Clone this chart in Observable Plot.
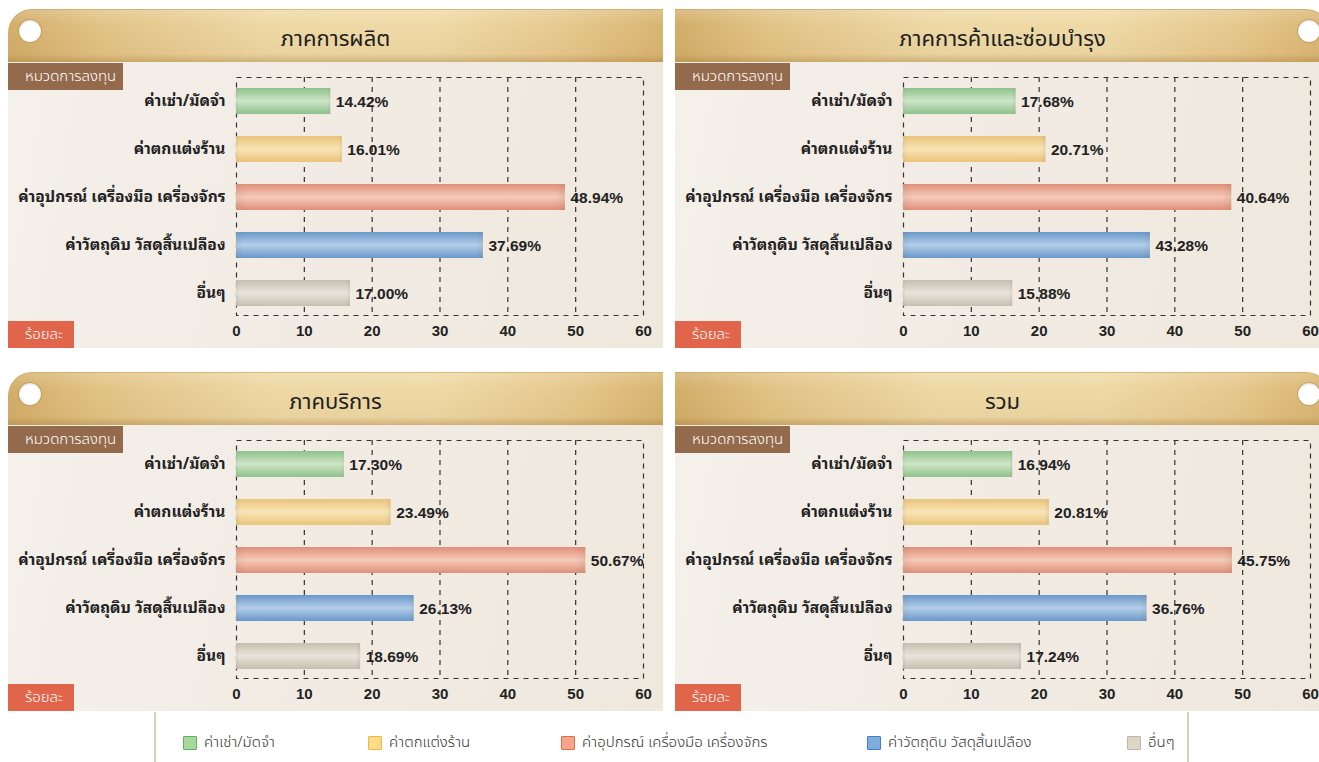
<!DOCTYPE html>
<html>
<head>
<meta charset="utf-8">
<script src="https://cdn.jsdelivr.net/npm/d3@7"></script>
<script src="https://cdn.jsdelivr.net/npm/@observablehq/plot@0.6"></script>
<style>
  html, body { margin: 0; padding: 0; background: #fff; }
  body { width: 1319px; height: 762px; overflow: hidden; position: relative;
         font-family: "Noto Sans Thai", "Noto Sans", sans-serif; }
  .panel { position: absolute; width: 655px; height: 339px; }
  .header { position: absolute; left: 0; top: 0; width: 655px; height: 53px;
    background:
      linear-gradient(to bottom, rgba(255,255,255,0.18) 0%, rgba(255,255,255,0) 30%, rgba(140,95,30,0.06) 85%, rgba(150,105,40,0.35) 100%),
      linear-gradient(to right, #d3ae6a 0%, #e2c386 14%, #eed9a6 40%, #efdaa7 65%, #e6c88d 86%, #d9b572 100%);
    box-shadow: inset 0 1px 0 rgba(200,160,90,0.6); }
  .left .header { border-top-left-radius: 24px; }
  .right .header { border-top-right-radius: 24px; }
  .title { position: absolute; left: 0; top: 0; width: 655px; height: 53px; line-height: 61px;
    text-align: center; font-size: 22px; font-weight: 400; color: #1e1e1e; }
  .hole { position: absolute; top: 11px; width: 22px; height: 22px; border-radius: 50%;
    background: #fff; box-shadow: 0 0 0 1px rgba(190,150,80,0.7), inset 0 1px 2px rgba(0,0,0,0.15); }
  .left .hole { left: 11px; }
  .right .hole { left: 623px; }
  .body { position: absolute; left: 0; top: 53px; width: 655px; height: 286px;
    background: linear-gradient(100deg, #f4f0ea 0%, #f1ebe3 50%, #efe8dd 100%); }
  .tag { position: absolute; left: 0; height: 27px; line-height: 27px; color: #fff;
    font-size: 15px; font-weight: 300; box-sizing: border-box; padding-left: 17px; }
  .tag.cat { top: 54px; width: 115px; background: #946a4d; }
  .tag.pct { top: 312px; width: 66px; background: #e1654b; }
  .plot { position: absolute; left: 0; top: 53px; }
  .legend { position: absolute; left: 0; top: 712px; width: 1319px; height: 50px; background: #fff; }
  .vline { position: absolute; top: 0; width: 2px; height: 50px; background: #dccfb8; }
  .item { position: absolute; top: 22px; height: 18px; font-size: 15px; font-weight: 300; color: #333; line-height: 18px; white-space: nowrap; }
  .sw { position: absolute; left: 0; top: 2px; width: 12px; height: 12px; border: 1.5px solid; border-radius: 1px; }
  .item span.t { position: absolute; left: 21px; top: 0; }
</style>
</head>
<body>
<svg width="0" height="0" style="position:absolute">
  <defs id="defs"></defs>
</svg>
<div id="root"></div>
<script>
// ---------- data ----------
const categories = [
  "ค่าเช่า/มัดจำ",
  "ค่าตกแต่งร้าน",
  "ค่าอุปกรณ์ เครื่องมือ เครื่องจักร",
  "ค่าวัตถุดิบ วัสดุสิ้นเปลือง",
  "อื่นๆ"
];
const sectors = ["ภาคการผลิต", "ภาคการค้าและซ่อมบำรุง", "ภาคบริการ", "รวม"];

// printed percentages
const pctManufacturing = [14.42, 16.01, 48.94, 37.69, 17.00];
const pctTrade         = [17.68, 20.71, 40.64, 43.28, 15.88];
const pctService       = [17.30, 23.49, 50.67, 26.13, 18.69];
const pctTotal         = [16.94, 20.81, 45.75, 36.76, 17.24];

// bar lengths as drawn in the picture (read against the axis)
const barManufacturing = [13.9, 15.6, 48.5, 36.4, 16.8];
const barTrade         = [16.6, 21.0, 48.4, 36.4, 16.1];
const barService       = [15.9, 22.8, 51.5, 26.2, 18.3];
const barTotal         = [16.1, 21.5, 48.5, 35.9, 17.4];

const xTicks = [0, 10, 20, 30, 40, 50, 60];
const gridTicks = [10, 20, 30, 40, 50];
const yAxisTitle = "หมวดการลงทุน";
const xAxisTitle = "ร้อยละ";

// colours: [edge, centre] of bar gradients, legend fill/border
const barEdge   = ["#90c18b", "#e9c47a", "#e0907a", "#6a98ca", "#c6beb1"];
const barCenter = ["#cde6c8", "#f9e4b6", "#f6cab9", "#b3cee9", "#e9e4db"];
const legendFill   = ["#a8d8a0", "#fddc8c", "#f6a58c", "#7eaedf", "#ddd5c5"];
const legendBorder = ["#5fb45a", "#efb93e", "#e2684e", "#3f7fc6", "#bfb5a2"];
const legendX = [183, 368, 561, 867, 1127];

// ---------- gradients ----------
const defs = document.getElementById("defs");
const NS = "http://www.w3.org/2000/svg";
categories.forEach((c, i) => {
  const g = document.createElementNS(NS, "linearGradient");
  g.setAttribute("id", "bar-g" + i);
  g.setAttribute("x1", "0"); g.setAttribute("y1", "0");
  g.setAttribute("x2", "0"); g.setAttribute("y2", "1");
  [[0, barEdge[i]], [0.5, barCenter[i]], [1, barEdge[i]]].forEach(([o, col]) => {
    const s = document.createElementNS(NS, "stop");
    s.setAttribute("offset", o); s.setAttribute("stop-color", col);
    g.appendChild(s);
  });
  defs.appendChild(g);
});
{
  const g = document.createElementNS(NS, "linearGradient");
  g.setAttribute("id", "bar-ends");
  [[0, "rgba(120,90,60,0.10)"], [0.03, "rgba(120,90,60,0)"], [0.97, "rgba(120,90,60,0)"], [1, "rgba(120,90,60,0.12)"]].forEach(([o, col]) => {
    const s = document.createElementNS(NS, "stop");
    s.setAttribute("offset", o); s.setAttribute("stop-color", col);
    g.appendChild(s);
  });
  defs.appendChild(g);
}

// ---------- panels ----------
const panels = [
  {title: sectors[0], bars: barManufacturing, pcts: pctManufacturing, left: 8,   top: 9,   side: "left"},
  {title: sectors[1], bars: barTrade,         pcts: pctTrade,         left: 675, top: 9,   side: "right"},
  {title: sectors[2], bars: barService,       pcts: pctService,       left: 8,   top: 372, side: "left"},
  {title: sectors[3], bars: barTotal,         pcts: pctTotal,         left: 675, top: 372, side: "right"}
];

const root = document.getElementById("root");
const gridStyle = {stroke: "#333", strokeWidth: 1.2, strokeDasharray: "5,5"};
const numFont = "'Liberation Sans', Arial, sans-serif";
const thaiLabelFont = "'Noto Sans Thai Looped', 'Noto Sans Thai', 'Noto Sans', sans-serif";

panels.forEach(p => {
  const el = document.createElement("div");
  el.className = "panel " + p.side;
  el.style.left = p.left + "px";
  el.style.top = p.top + "px";
  el.innerHTML = `<div class="header"></div><div class="title">${p.title}</div><div class="hole"></div><div class="body"></div>`;
  root.appendChild(el);

  const data = categories.map((c, i) => ({
    cat: c, bar: p.bars[i], label: p.pcts[i].toFixed(2) + "%", fill: `url(#bar-g${i})`
  }));

  const chart = Plot.plot({
    width: 655, height: 286,
    marginLeft: 228, marginRight: 20, marginTop: 15, marginBottom: 33,
    style: {background: "transparent", fontSize: "15px", color: "#222", overflow: "visible"},
    x: {domain: [0, 60]},
    y: {domain: categories, paddingInner: 0.45, paddingOuter: 0.16, align: 0.57},
    color: {type: "identity"},
    marks: [
      Plot.ruleX(gridTicks, gridStyle),
      Plot.frame(gridStyle),
      Plot.barX(data, {x: "bar", y: "cat", fill: "fill"}),
      Plot.barX(data, {x: "bar", y: "cat", fill: () => "url(#bar-ends)"}),
      Plot.text(data, {x: "bar", y: "cat", text: "label", textAnchor: "start", dx: 5, dy: 1,
        fontSize: 15.5, fontWeight: "bold", fill: "#222", fontFamily: numFont}),
      Plot.axisX({ticks: xTicks, tickSize: 0, tickPadding: 10, fontSize: 15, fontWeight: "bold",
        fontFamily: numFont, label: null, tickFormat: d => String(d)}),
      Plot.axisY({tickSize: 0, tickPadding: 11, fontSize: 15.5, fontWeight: "bold", label: null,
        fontFamily: thaiLabelFont})
    ]
  });
  chart.classList.add("plot");
  el.appendChild(chart);

  const t1 = document.createElement("div");
  t1.className = "tag cat"; t1.textContent = yAxisTitle; el.appendChild(t1);
  const t2 = document.createElement("div");
  t2.className = "tag pct"; t2.textContent = xAxisTitle; el.appendChild(t2);
});

// ---------- legend ----------
const leg = document.createElement("div");
leg.className = "legend";
leg.innerHTML = `<div class="vline" style="left:154px"></div><div class="vline" style="left:1187px"></div>`;
categories.forEach((c, i) => {
  const it = document.createElement("div");
  it.className = "item";
  it.style.left = legendX[i] + "px";
  it.innerHTML = `<div class="sw" style="background:${legendFill[i]};border-color:${legendBorder[i]}"></div><span class="t">${c}</span>`;
  leg.appendChild(it);
});
document.body.appendChild(leg);
</script>
</body>
</html>
